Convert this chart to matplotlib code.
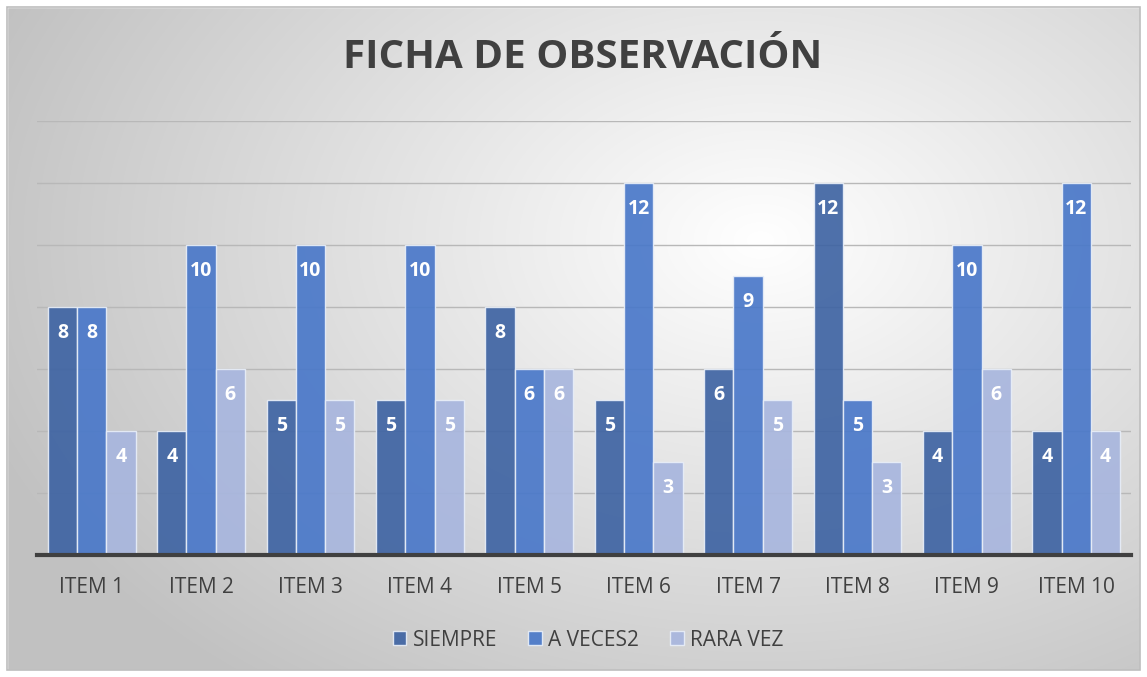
import numpy as np
import matplotlib.pyplot as plt
from matplotlib.patches import Rectangle

categories = ['ITEM 1', 'ITEM 2', 'ITEM 3', 'ITEM 4', 'ITEM 5',
              'ITEM 6', 'ITEM 7', 'ITEM 8', 'ITEM 9', 'ITEM 10']
series_names = ['SIEMPRE', 'A VECES2', 'RARA VEZ']
siempre = [8, 4, 5, 5, 8, 5, 6, 12, 4, 4]
a_veces = [8, 10, 10, 10, 6, 12, 9, 5, 10, 12]
rara_vez = [4, 6, 5, 5, 6, 3, 5, 3, 6, 4]
colors = ['#3f64a3', '#4a78c9', '#a8b6de']

plt.rcParams['font.family'] = ['Open Sans', 'DejaVu Sans']

W, H = 1147, 677
fig = plt.figure(figsize=(W / 100, H / 100), dpi=100)

# radial gradient background
bg = fig.add_axes([0, 0, 1, 1])
yy, xx = np.mgrid[0:H, 0:W]
r = np.hypot((xx - 760) / 820, (yy - 240) / 560)
shade = np.clip(1.0 - 0.24 * r, 0.76, 1.0)
bg.imshow(np.dstack([shade] * 3), extent=[0, W, H, 0], aspect='auto')
bg.add_patch(Rectangle((0, 0), W, 7, color='white'))
bg.add_patch(Rectangle((0, 670), W, 7, color='white'))
bg.add_patch(Rectangle((0, 0), 7, H, color='white'))
bg.add_patch(Rectangle((1140, 0), 7, H, color='white'))
bg.add_patch(Rectangle((7, 7), 1133, 663, fill=False, ec='#bdbdbd', lw=1.2))
bg.set_xlim(0, W)
bg.set_ylim(H, 0)
bg.axis('off')

ax = fig.add_axes([37 / W, 1 - 555 / H, (1131 - 37) / W, (555 - 121) / H])
ax.patch.set_alpha(0)

x = np.arange(len(categories))
w = 0.268
for i, (vals, name) in enumerate(zip([siempre, a_veces, rara_vez], series_names)):
    bars = ax.bar(x + (i - 1) * w, vals, w, color=colors[i], alpha=0.92,
                  edgecolor='#e8eef8', linewidth=1, label=name, zorder=3)
    for b, v in zip(bars, vals):
        ax.text(b.get_x() + b.get_width() / 2, v - 0.84, str(v), color='white',
                ha='center', va='center', fontsize=14, fontweight='bold',
                zorder=4)

ax.set_xlim(-0.5, len(categories) - 0.5)
ax.set_ylim(0, 14)
ax.set_yticks(np.arange(2, 15, 2))
ax.yaxis.grid(True, color='#b8b8b8', lw=1, zorder=0)
ax.tick_params(axis='y', left=False, labelleft=False)
ax.tick_params(axis='x', length=0, pad=16, labelsize=15, labelcolor='#404040')
ax.set_xticks(x)
ax.set_xticklabels(categories)
for s in ['top', 'right', 'left']:
    ax.spines[s].set_visible(False)
ax.spines['bottom'].set_color('#404040')
ax.spines['bottom'].set_linewidth(3)
ax.spines['bottom'].set_zorder(5)

fig.text(583 / W, 1 - 57 / H, 'FICHA DE OBSERVACIÓN', ha='center', va='center',
         fontsize=29, fontweight='bold', color='#404040')

fig.legend(loc='center', bbox_to_anchor=(588 / W, 1 - 640 / H), ncol=3,
           frameon=False, fontsize=15, labelcolor='#404040', handlelength=0.65,
           handleheight=0.65, handletextpad=0.3, columnspacing=1.5)

fig.savefig('out.png', dpi=100)
